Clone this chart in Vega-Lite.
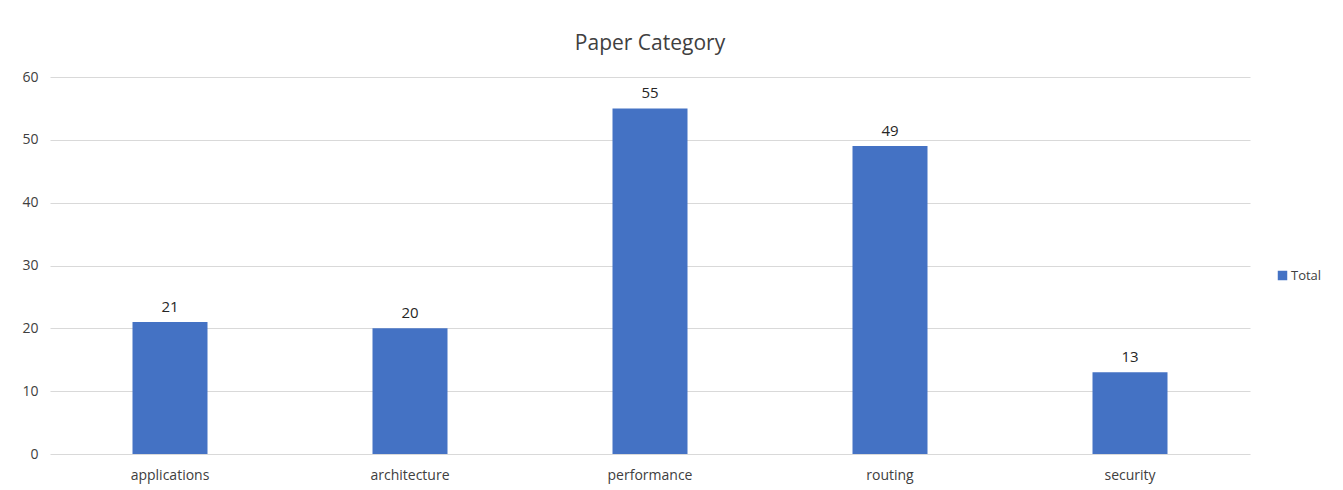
{
  "$schema": "https://vega.github.io/schema/vega-lite/v6.json",
  "autosize": {"type": "none"},
  "width": 1200,
  "height": 377,
  "padding": {"left": 50, "top": 77, "right": 93, "bottom": 36},
  "background": "white",
  "title": {
    "text": "Paper Category",
    "font": "Open Sans",
    "fontSize": 21,
    "fontWeight": "normal",
    "color": "#404040",
    "anchor": "middle",
    "offset": 16
  },
  "data": {
    "values": [
      {"category": "applications", "count": 21, "series": "Total"},
      {"category": "architecture", "count": 20, "series": "Total"},
      {"category": "performance", "count": 55, "series": "Total"},
      {"category": "routing", "count": 49, "series": "Total"},
      {"category": "security", "count": 13, "series": "Total"}
    ]
  },
  "encoding": {
    "x": {
      "field": "category",
      "type": "nominal",
      "sort": null,
      "scale": {"paddingInner": 0.6875, "paddingOuter": 0.34375},
      "axis": {
        "title": null,
        "labelAngle": 0,
        "labelFont": "Open Sans",
        "labelFontSize": 14,
        "labelColor": "#404040",
        "labelPadding": 14,
        "ticks": false,
        "domain": false
      }
    },
    "y": {
      "field": "count",
      "type": "quantitative",
      "scale": {"domain": [0, 60]},
      "axis": {
        "title": null,
        "values": [0, 10, 20, 30, 40, 50, 60],
        "labelFont": "Open Sans",
        "labelFontSize": 14,
        "labelColor": "#404040",
        "labelPadding": 12,
        "ticks": false,
        "domain": false,
        "gridColor": "#d9d9d9",
        "gridWidth": 1
      }
    }
  },
  "layer": [
    {
      "mark": {"type": "bar", "color": "#4472C4"},
      "encoding": {
        "color": {
          "field": "series",
          "type": "nominal",
          "scale": {"range": ["#4472C4"]},
          "legend": {
            "title": null,
            "orient": "none",
            "legendX": 1226,
            "legendY": 192,
            "symbolType": "square",
            "symbolSize": 90,
            "symbolStrokeWidth": 0,
            "labelFont": "Open Sans",
            "labelFontSize": 13,
            "labelColor": "#404040",
            "labelOffset": 2
          }
        }
      }
    },
    {
      "mark": {
        "type": "text",
        "dy": -15,
        "font": "Open Sans",
        "fontSize": 15,
        "color": "#262626"
      },
      "encoding": {"text": {"field": "count", "type": "quantitative"}}
    }
  ],
  "config": {"view": {"stroke": null}}
}
